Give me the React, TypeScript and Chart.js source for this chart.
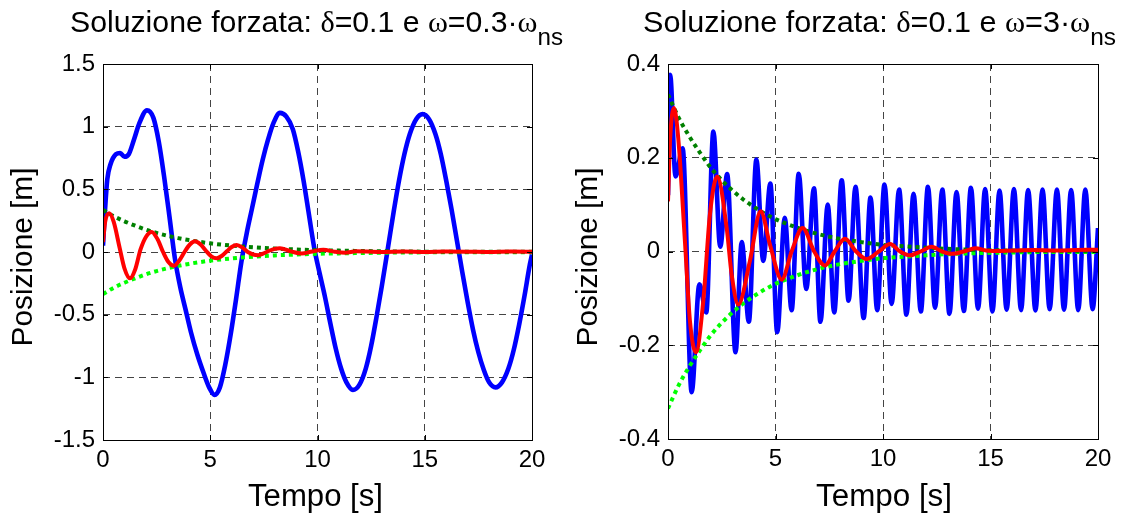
import React, { useEffect, useRef } from 'react';
import { Chart, registerables } from 'chart.js';

Chart.register(...registerables);

// ---------- data ----------
const xTicks = [0, 5, 10, 15, 20];
const xTickLabels = ['0', '5', '10', '15', '20'];
const leftYTicks = [-1.5, -1, -0.5, 0, 0.5, 1, 1.5];
const leftYTickLabels = ['-1.5', '-1', '-0.5', '0', '0.5', '1', '1.5'];
const rightYTicks = [-0.4, -0.2, 0, 0.2, 0.4];
const rightYTickLabels = ['-0.4', '-0.2', '0', '0.2', '0.4'];

// exponential envelopes (dotted green)
const envT = [0, 0.5, 1, 1.5, 2, 2.5, 3, 3.5, 4, 4.5, 5, 6, 7, 8, 9, 10, 11, 12, 14, 16, 18, 20];
const envUpper = [0.335, 0.285, 0.245, 0.21, 0.178, 0.152, 0.13, 0.111, 0.095, 0.081, 0.069, 0.051, 0.037, 0.027, 0.02, 0.014, 0.011, 0.008, 0.004, 0.002, 0.001, 0.001];
const envLower = [-0.335, -0.285, -0.245, -0.21, -0.178, -0.152, -0.13, -0.111, -0.095, -0.081, -0.069, -0.051, -0.037, -0.027, -0.02, -0.014, -0.011, -0.008, -0.004, -0.002, -0.001, -0.001];

// left panel: omega = 0.3 omega_ns
const leftBlueT = [0, 0.1, 0.2, 0.35, 0.6, 0.8, 1.0, 1.2, 1.45, 1.7, 2.05, 2.35, 2.6, 2.85, 3.1, 3.35, 3.6, 3.85, 4.1, 4.4, 4.7, 4.95, 5.2, 5.45, 5.7, 5.95, 6.2, 6.45, 6.7, 6.95, 7.2, 7.45, 7.7, 7.95, 8.25, 8.55, 8.85, 9.1, 9.35, 9.6, 9.85, 10.1, 10.35, 10.6, 10.85, 11.1, 11.35, 11.65, 11.95, 12.25, 12.5, 12.75, 13.0, 13.3, 13.55, 13.8, 14.05, 14.3, 14.6, 14.9, 15.2, 15.5, 15.75, 16.0, 16.25, 16.5, 16.75, 17.0, 17.25, 17.5, 17.75, 18.0, 18.3, 18.6, 18.9, 19.15, 19.4, 19.65, 19.9, 20.0];
const leftBlueV = [0.05, 0.35, 0.58, 0.7, 0.78, 0.79, 0.76, 0.78, 0.9, 1.03, 1.13, 1.07, 0.88, 0.6, 0.28, -0.05, -0.28, -0.46, -0.64, -0.82, -0.97, -1.08, -1.14, -1.08, -0.9, -0.66, -0.38, -0.08, 0.15, 0.35, 0.55, 0.74, 0.9, 1.03, 1.11, 1.08, 0.98, 0.8, 0.57, 0.3, 0.03, -0.17, -0.36, -0.57, -0.77, -0.93, -1.04, -1.1, -1.06, -0.93, -0.75, -0.52, -0.27, 0.05, 0.32, 0.57, 0.78, 0.94, 1.06, 1.1, 1.06, 0.94, 0.78, 0.57, 0.34, 0.09, -0.16, -0.4, -0.62, -0.8, -0.94, -1.04, -1.08, -1.04, -0.93, -0.78, -0.58, -0.35, -0.1, -0.02];
const leftRedT = [0, 0.1, 0.29, 0.5, 0.78, 1.0, 1.26, 1.5, 1.75, 2.0, 2.27, 2.55, 2.8, 3.05, 3.31, 3.55, 3.8, 4.05, 4.29, 4.55, 4.8, 5.05, 5.3, 5.55, 5.8, 6.0, 6.23, 6.5, 6.75, 7.0, 7.24, 7.5, 7.75, 8.0, 8.25, 8.75, 9.26, 9.75, 10.27, 10.8, 11.3, 11.8, 12.3, 13, 14, 15, 16, 17, 18, 19, 20];
const leftRedV = [0.08, 0.24, 0.31, 0.24, 0.03, -0.13, -0.21, -0.14, 0.02, 0.12, 0.16, 0.1, 0.0, -0.08, -0.11, -0.07, 0.0, 0.06, 0.085, 0.06, 0.01, -0.035, -0.05, -0.03, 0.01, 0.04, 0.055, 0.035, 0.0, -0.02, -0.025, -0.01, 0.01, 0.025, 0.03, 0.005, -0.012, 0.004, 0.018, 0.002, -0.006, 0.006, 0.004, 0.0, 0.004, 0.0, 0.003, 0.002, 0.0, 0.003, 0.002];

// right panel: omega = 3 omega_ns
const rightBlueT = [0, 0.1, 0.35, 0.68, 1.1, 1.46, 1.78, 2.11, 2.43, 2.75, 3.14, 3.43, 3.76, 4.11, 4.43, 4.76, 5.08, 5.43, 5.75, 6.08, 6.43, 6.79, 7.09, 7.43, 7.73, 8.08, 8.4, 8.72, 9.1, 9.42, 9.73, 10.07, 10.4, 10.75, 11.09, 11.42, 11.76, 12.09, 12.42, 12.76, 13.09, 13.42, 13.76, 14.09, 14.42, 14.75, 15.09, 15.42, 15.75, 16.09, 16.42, 16.75, 17.09, 17.42, 17.75, 18.09, 18.42, 18.75, 19.08, 19.41, 19.75, 20.0];
const rightBlueV = [0.12, 0.377, 0.16, 0.22, -0.3, -0.07, -0.13, 0.256, 0.01, 0.165, -0.215, 0.02, -0.15, 0.196, -0.02, 0.145, -0.172, 0.072, -0.125, 0.166, -0.08, 0.135, -0.15, 0.1, -0.13, 0.152, -0.105, 0.138, -0.142, 0.115, -0.125, 0.143, -0.112, 0.132, -0.135, 0.123, -0.128, 0.138, -0.12, 0.132, -0.133, 0.127, -0.127, 0.136, -0.122, 0.133, -0.128, 0.13, -0.124, 0.133, -0.125, 0.131, -0.126, 0.132, -0.123, 0.132, -0.124, 0.131, -0.125, 0.132, -0.123, 0.05];
const rightRedT = [0, 0.1, 0.28, 0.48, 0.79, 1.02, 1.3, 1.64, 1.95, 2.29, 2.73, 2.96, 3.27, 3.81, 4.31, 4.74, 5.29, 5.75, 6.26, 6.8, 7.3, 7.75, 8.23, 8.75, 9.24, 9.8, 10.33, 10.8, 11.26, 11.75, 12.26, 12.75, 13.2, 13.75, 14.3, 14.8, 15.3, 16, 17, 18, 19, 20];
const rightRedV = [0.107, 0.24, 0.306, 0.24, 0.02, -0.148, -0.215, -0.106, 0.079, 0.16, 0.05, -0.049, -0.113, -0.02, 0.086, 0.015, -0.06, 0.0, 0.05, 0.0, -0.03, 0.0, 0.027, 0.0, -0.016, 0.0, 0.016, 0.0, -0.008, 0.0, 0.01, 0.0, -0.005, 0.0, 0.007, 0.002, 0.001, 0.002, 0.003, 0.002, 0.003, 0.004];

// ---------- styling ----------
const SANS = "'Liberation Sans', Arial, Helvetica, sans-serif";
const SERIF = "'Liberation Serif', 'Times New Roman', serif";
const H = 513;

type Seg = { text: string; font: string; dy: number };

function drawSegs(ctx: CanvasRenderingContext2D, segs: Seg[], cx: number, baseline: number, targetW: number) {
  ctx.save();
  let natural = 0;
  for (const s of segs) {
    ctx.font = s.font;
    natural += ctx.measureText(s.text).width;
  }
  const sx = targetW / natural;
  ctx.translate(cx - targetW / 2, baseline);
  ctx.scale(sx, 1);
  ctx.fillStyle = '#000';
  ctx.textAlign = 'left';
  ctx.textBaseline = 'alphabetic';
  let x = 0;
  for (const s of segs) {
    ctx.font = s.font;
    ctx.fillText(s.text, x, s.dy);
    x += ctx.measureText(s.text).width;
  }
  ctx.restore();
}

function titleSegs(factor: string): Seg[] {
  const sans = `30px ${SANS}`;
  const serif = `30px ${SERIF}`;
  return [
    { text: 'Soluzione forzata: ', font: sans, dy: 0 },
    { text: 'δ', font: serif, dy: 0 },
    { text: '=0.1 e ', font: sans, dy: 0 },
    { text: 'ω', font: serif, dy: 0 },
    { text: '=' + factor, font: sans, dy: 0 },
    { text: '·', font: sans, dy: 0 },
    { text: 'ω', font: serif, dy: 0 },
    { text: 'ns', font: `24px ${SANS}`, dy: 13 },
  ];
}

type PanelSpec = {
  left: number;
  width: number;
  yAxisW: number;
  rightPad: number;
  xAxisH: number;
  yMin: number;
  yMax: number;
  yTicks: number[];
  yTickLabels: string[];
  factor: string;
  titleCx: number;
  titleW: number;
  xTitleCx: number;
  xTitleW: number;
  yTitleX: number;
  blueT: number[];
  blueV: number[];
  redT: number[];
  redV: number[];
};

function pts(t: number[], v: number[]) {
  return t.map((x, i) => ({ x, y: v[i] }));
}

function buildConfig(spec: PanelSpec): any {
  const off = spec.left;
  const framePlugin = {
    id: 'frame' + off,
    afterDraw(chart: any) {
      const ctx: CanvasRenderingContext2D = chart.ctx;
      const a = chart.chartArea;
      const xs = chart.scales.x;
      const ys = chart.scales.y;
      ctx.save();
      ctx.setLineDash([]);
      ctx.strokeStyle = '#000';
      ctx.lineWidth = 1;
      ctx.beginPath();
      for (const v of xTicks) {
        const px = Math.round(xs.getPixelForValue(v)) + 0.5;
        ctx.moveTo(px, a.bottom);
        ctx.lineTo(px, a.bottom - 5);
        ctx.moveTo(px, a.top);
        ctx.lineTo(px, a.top + 5);
      }
      for (const v of spec.yTicks) {
        const py = Math.round(ys.getPixelForValue(v)) + 0.5;
        ctx.moveTo(a.left, py);
        ctx.lineTo(a.left + 5, py);
        ctx.moveTo(a.right, py);
        ctx.lineTo(a.right - 5, py);
      }
      ctx.stroke();
      ctx.strokeRect(a.left + 0.5, a.top + 0.5, a.right - a.left, a.bottom - a.top);
      ctx.restore();

      // title
      drawSegs(ctx, titleSegs(spec.factor), spec.titleCx - off, 32, spec.titleW);
      // x title
      drawSegs(ctx, [{ text: 'Tempo [s]', font: `31px ${SANS}`, dy: 0 }], spec.xTitleCx - off, 506, spec.xTitleW);
      // y title
      ctx.save();
      ctx.translate(spec.yTitleX - off, 257);
      ctx.rotate(-Math.PI / 2);
      drawSegs(ctx, [{ text: 'Posizione [m]', font: `30px ${SANS}`, dy: 0 }], 0, 0, 179);
      ctx.restore();
    },
  };

  const tickFont = { family: SANS, size: 24 };

  return {
    type: 'line',
    data: {
      datasets: [
        {
          data: pts(spec.redT, spec.redV),
          borderColor: '#ff0000',
          borderWidth: 4,
          cubicInterpolationMode: 'monotone',
        },
        {
          data: pts(envT, envUpper),
          borderColor: '#008000',
          borderWidth: 4,
          borderDash: [4, 4],
          borderCapStyle: 'butt',
          cubicInterpolationMode: 'monotone',
        },
        {
          data: pts(envT, envLower),
          borderColor: '#00ff00',
          borderWidth: 4,
          borderDash: [4, 4],
          borderCapStyle: 'butt',
          cubicInterpolationMode: 'monotone',
        },
        {
          data: pts(spec.blueT, spec.blueV),
          borderColor: '#0000ff',
          borderWidth: 4.6,
          cubicInterpolationMode: 'monotone',
        },
      ],
    },
    options: {
      animation: false,
      responsive: false,
      events: [],
      layout: { padding: { left: 0, right: spec.rightPad, top: 64, bottom: 0 } },
      elements: { point: { radius: 0 }, line: { fill: false, borderJoinStyle: 'round' } },
      plugins: {
        legend: { display: false },
        title: { display: false },
        tooltip: { enabled: false },
      },
      scales: {
        x: {
          type: 'linear',
          min: 0,
          max: 20,
          afterBuildTicks: (s: any) => {
            s.ticks = xTicks.map((value) => ({ value }));
          },
          afterFit: (s: any) => {
            s.height = spec.xAxisH;
          },
          ticks: {
            callback: (_v: any, i: number) => xTickLabels[i],
            padding: 6,
            font: tickFont,
            color: '#000',
            maxRotation: 0,
            autoSkip: false,
          },
          grid: { color: '#444', lineWidth: 1, drawTicks: false },
          border: { display: false, dash: [7, 5] },
        },
        y: {
          type: 'linear',
          min: spec.yMin,
          max: spec.yMax,
          afterBuildTicks: (s: any) => {
            s.ticks = spec.yTicks.map((value) => ({ value }));
          },
          afterFit: (s: any) => {
            s.width = spec.yAxisW;
          },
          ticks: {
            callback: (_v: any, i: number) => spec.yTickLabels[i],
            padding: 8,
            font: tickFont,
            color: '#000',
            autoSkip: false,
          },
          grid: { color: '#444', lineWidth: 1, drawTicks: false },
          border: { display: false, dash: [7, 5] },
        },
      },
    },
    plugins: [framePlugin],
  };
}

const leftSpec: PanelSpec = {
  left: 0,
  width: 580,
  yAxisW: 103,
  rightPad: 48,
  xAxisH: 73,
  yMin: -1.5,
  yMax: 1.5,
  yTicks: leftYTicks,
  yTickLabels: leftYTickLabels,
  factor: '0.3',
  titleCx: 316.5,
  titleW: 493,
  xTitleCx: 315.5,
  xTitleW: 135,
  yTitleX: 32,
  blueT: leftBlueT,
  blueV: leftBlueV,
  redT: leftRedT,
  redV: leftRedV,
};

const rightSpec: PanelSpec = {
  left: 560,
  width: 561,
  yAxisW: 108,
  rightPad: 23,
  xAxisH: 74,
  yMin: -0.4,
  yMax: 0.4,
  yTicks: rightYTicks,
  yTickLabels: rightYTickLabels,
  factor: '3',
  titleCx: 879.5,
  titleW: 473,
  xTitleCx: 884,
  xTitleW: 136,
  yTitleX: 597,
  blueT: rightBlueT,
  blueV: rightBlueV,
  redT: rightRedT,
  redV: rightRedV,
};

function Panel({ spec }: { spec: PanelSpec }) {
  const ref = useRef<HTMLCanvasElement>(null);
  useEffect(() => {
    const chart = new Chart(ref.current as HTMLCanvasElement, buildConfig(spec));
    return () => chart.destroy();
  }, [spec]);
  return (
    <canvas
      ref={ref}
      width={spec.width}
      height={H}
      style={{ position: 'absolute', left: spec.left, top: 0, width: spec.width, height: H, display: 'block' }}
    />
  );
}

export default function App() {
  return (
    <div style={{ position: 'fixed', left: 0, top: 0, width: 1121, height: H, background: '#fff', overflow: 'hidden' }}>
      <Panel spec={leftSpec} />
      <Panel spec={rightSpec} />
    </div>
  );
}
